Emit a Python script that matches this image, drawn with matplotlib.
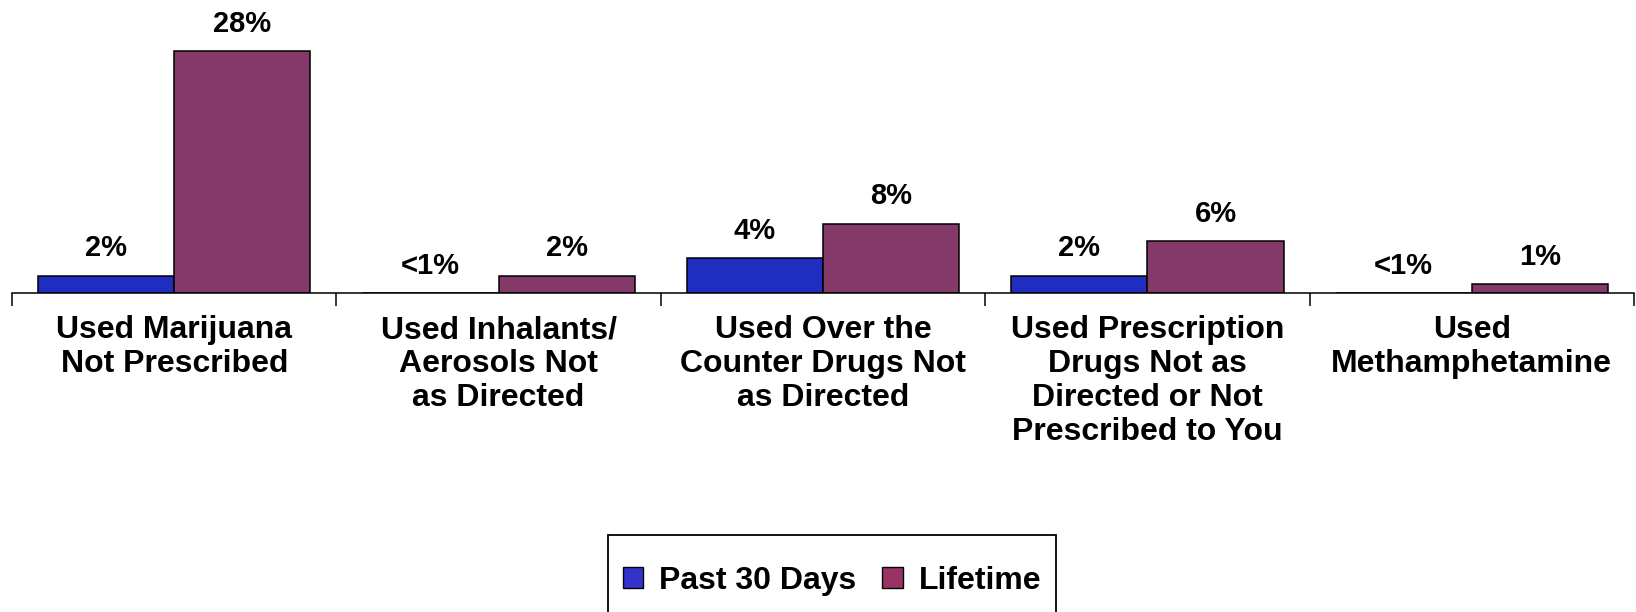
import matplotlib
matplotlib.use("Agg")
import matplotlib.pyplot as plt
from matplotlib.patches import Patch, Rectangle
import numpy as np

plt.rcParams['font.family'] = ['Liberation Sans', 'DejaVu Sans']
plt.rcParams['font.weight'] = 'bold'

categories = [
    "Used Marijuana\nNot Prescribed",
    "Used Inhalants/\nAerosols Not\nas Directed",
    "Used Over the\nCounter Drugs Not\nas Directed",
    "Used Prescription\nDrugs Not as\nDirected or Not\nPrescribed to You",
    "Used\nMethamphetamine",
]
past_30_days = [2, 0, 4, 2, 0]
lifetime = [28, 2, 8, 6, 1]
past_30_labels = ["2%", "<1%", "4%", "2%", "<1%"]
lifetime_labels = ["28%", "2%", "8%", "6%", "1%"]
series_names = ["Past 30 Days", "Lifetime"]

blue = "#1F2DC0"
maroon = "#843A68"

W, H = 1636, 612
fig = plt.figure(figsize=(W / 100, H / 100), dpi=100)
axis_y = 293
px_per_pct = 8.64
ax = fig.add_axes([12 / W, (H - axis_y) / H, (1634 - 12) / W, axis_y / H])

x = np.arange(len(categories))
bw = 0.42
ax.bar(x - bw / 2, past_30_days, width=bw, color=blue, edgecolor="black", linewidth=1.1)
ax.bar(x + bw / 2, lifetime, width=bw, color=maroon, edgecolor="black", linewidth=1.1)

for xi, v, lab in zip(x - bw / 2, past_30_days, past_30_labels):
    ax.annotate(lab, (xi, v), xytext=(0, 14), textcoords="offset points",
                ha="center", va="baseline", fontsize=21, fontweight="bold")
for xi, v, lab in zip(x + bw / 2, lifetime, lifetime_labels):
    ax.annotate(lab, (xi, v), xytext=(0, 14), textcoords="offset points",
                ha="center", va="baseline", fontsize=21, fontweight="bold")

ax.set_xlim(-0.5, len(categories) - 0.5)
ax.set_ylim(0, axis_y / px_per_pct)

for s in ["top", "right", "left"]:
    ax.spines[s].set_visible(False)
ax.spines["bottom"].set_linewidth(1.1)
ax.set_yticks([])

ax.set_xticks(x)
ax.set_xticklabels(categories, fontsize=23, fontweight="bold", linespacing=1.17)
ax.tick_params(axis="x", which="major", length=0, pad=16)
ax.set_xticks(np.arange(-0.5, len(categories), 1.0), minor=True)
ax.tick_params(axis="x", which="minor", length=9, width=1.1, direction="out")

# legend box: a plain rectangle that runs off the bottom edge of the figure
fig.patches.append(Rectangle((608 / W, -0.1), (1056 - 608) / W, 0.1 + (H - 535) / H,
                             transform=fig.transFigure, fill=False,
                             edgecolor="black", linewidth=1.3))

handles = [Patch(facecolor="#3333CC", edgecolor="black", linewidth=1.0),
           Patch(facecolor="#993366", edgecolor="black", linewidth=1.0)]
leg = fig.legend(handles, series_names, loc="center",
                 bbox_to_anchor=(832 / W, 1 - 581 / H), ncol=2,
                 fontsize=23, frameon=False,
                 handlelength=0.65, handleheight=0.65, handletextpad=0.5,
                 columnspacing=0.8, borderpad=0.0, borderaxespad=0)
for t in leg.get_texts():
    t.set_fontweight("bold")

fig.savefig("out.png", dpi=100)
